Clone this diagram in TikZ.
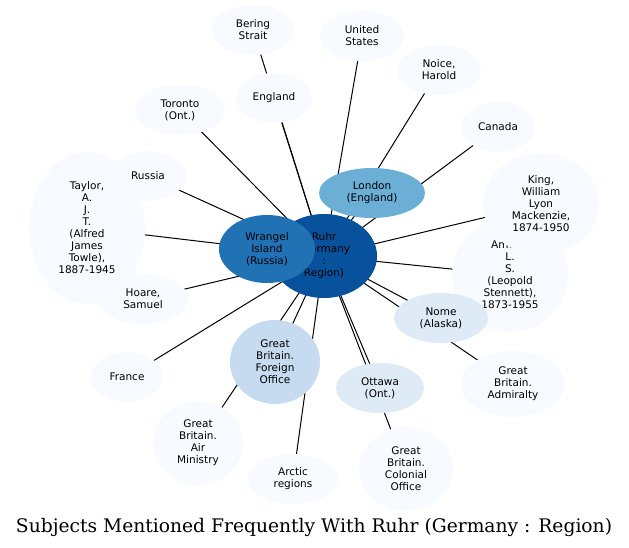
\documentclass[tikz,border=0pt]{standalone}
\usepackage{fontspec}
\setmainfont{DejaVu Sans}
\newfontfamily\titlefont{DejaVu Serif}
\usetikzlibrary{shapes.geometric,backgrounds}
\definecolor{cA}{HTML}{08519C}
\definecolor{cB}{HTML}{2171B5}
\definecolor{cC}{HTML}{6BAED6}
\definecolor{cD}{HTML}{C6DBEF}
\definecolor{cE}{HTML}{DEEBF7}
\definecolor{cF}{HTML}{F7FBFF}
\tikzset{
  nd/.style={ellipse, inner sep=0pt, align=center, text=black,
    font=\fontsize{10.5bp}{12bp}\selectfont, fill=cF},
  sz/.style 2 args={minimum width=#1bp, minimum height=#2bp},
  edge/.style={draw=black, line width=1bp}
}
\begin{document}
\begin{tikzpicture}[x=1bp,y=-1bp]
\useasboundingbox (0,0) rectangle (629,548);
\node[nd, sz={82}{50}] (bering) at (253,30) {Bering\\Strait};
\node[nd, sz={84}{50}] (us) at (362,36) {United\\States};
\node[nd, sz={84}{50}] (noice) at (439,70) {Noice,\\Harold};
\node[nd, sz={76}{50}] (england) at (274,98) {England};
\node[nd, sz={90}{50}] (toronto) at (180,110) {Toronto\\(Ont.)};
\node[nd, sz={74}{50}] (canada) at (498,127) {Canada};
\node[nd, sz={116}{152}] (taylor) at (87,228) {Taylor,\\A.\\J.\\T.\\(Alfred\\James\\Towle),\\1887-1945};
\node[nd, sz={76}{50}] (russia) at (148,176) {Russia};
\node[nd, sz={90}{50}] (hoare) at (143,299) {Hoare,\\Samuel};
\node[nd, sz={116}{114}] (amery) at (510,275) {Amery,\\L.\\S.\\(Leopold\\Stennett),\\1873-1955};
\node[nd, sz={116}{102}] (king) at (541,204) {King,\\William\\Lyon\\Mackenzie,\\1874-1950};
\node[nd, sz={72}{50}] (france) at (127,377) {France};
\node[nd, sz={90}{84}] (air) at (198,443) {Great\\Britain.\\Air\\Ministry};
\node[nd, sz={90}{50}] (arctic) at (293,479) {Arctic\\regions};
\node[nd, sz={94}{84}] (colonial) at (406,469) {Great\\Britain.\\Colonial\\Office};
\node[nd, sz={104}{66}] (admiralty) at (513,384) {Great\\Britain.\\Admiralty};
\node[nd, fill=cE, sz={94}{50}] (nome) at (441,318) {Nome\\(Alaska)};
\node[nd, fill=cE, sz={88}{50}] (ottawa) at (380,388) {Ottawa\\(Ont.)};
\node[nd, fill=cD, sz={90}{84}] (foreign) at (275,362) {Great\\Britain.\\Foreign\\Office};
\node[nd, fill=cA, sz={106}{84}] (ruhr) at (324,256) {Ruhr\\(Germany\\:\\Region)};
\node[nd, fill=cC, sz={106}{50}] (london) at (372,193) {London\\(England)};
\node[nd, fill=cB, sz={96}{68}] (wrangel) at (267,249) {Wrangel\\Island\\(Russia)};
\begin{scope}[on background layer]
\foreach \t in {bering,us,noice,england,toronto,canada,taylor,russia,hoare,amery,king,france,air,arctic,colonial,admiralty,nome,ottawa,foreign,london,wrangel}
  \draw[edge] (ruhr.center) -- (\t.center);
\end{scope}
\node[anchor=base, inner sep=0pt] (title) at (314,532) {\resizebox{596bp}{!}{\titlefont Subjects Mentioned Frequently With Ruhr (Germany : Region)}};
\end{tikzpicture}
\end{document}
